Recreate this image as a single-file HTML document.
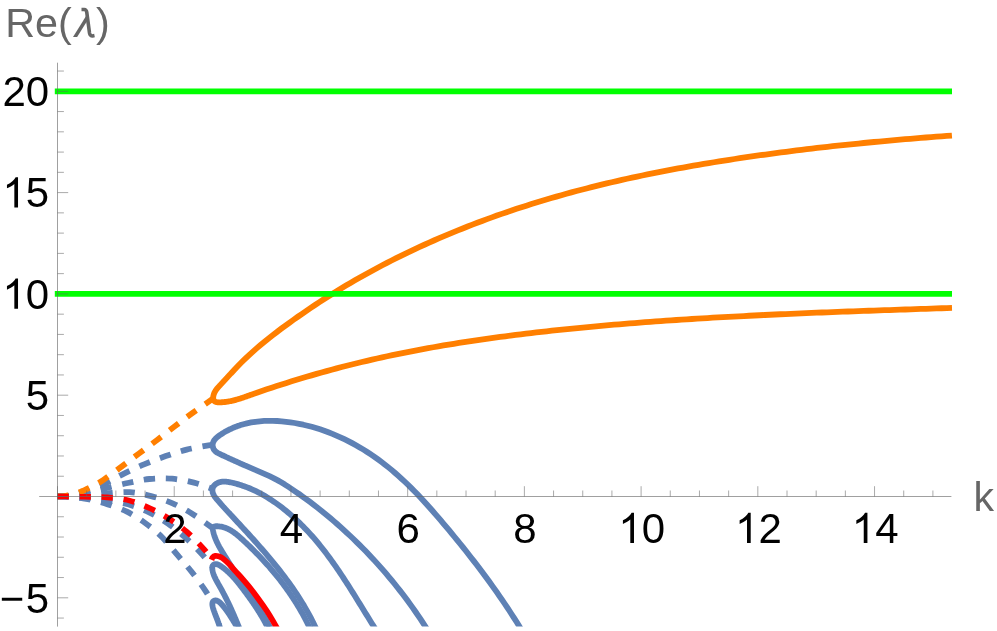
<!DOCTYPE html><html><head><meta charset="utf-8"><style>html,body{margin:0;padding:0;background:#fff;}body{width:997px;height:631px;position:relative;overflow:hidden;font-family:"Liberation Sans",sans-serif;}</style></head><body>
<svg width="997" height="631" viewBox="0 0 997 631" style="position:absolute;left:0;top:0">
<defs><clipPath id="c"><rect x="0" y="0" width="997" height="626.6"/></clipPath></defs>
<g clip-path="url(#c)" stroke-linecap="butt" stroke-linejoin="round">
<path d="M57.40 496.40 C58.67 496.35 62.07 496.40 65.00 496.10 C67.93 495.80 71.75 495.32 75.00 494.60 C78.25 493.88 81.50 492.83 84.50 491.80 C87.50 490.77 89.30 489.93 93.00 488.40 C96.70 486.87 101.45 485.12 106.70 482.60 C111.95 480.08 118.17 476.38 124.50 473.30 C130.83 470.22 137.83 466.97 144.70 464.10 C151.57 461.23 158.70 458.52 165.70 456.10 C172.70 453.68 179.57 451.38 186.70 449.60 C193.83 447.82 204.23 446.17 208.50 445.40 C212.77 444.63 211.67 445.07 212.30 445.00" stroke="#5E81B5" stroke-width="5.80" fill="none" stroke-dasharray="11.4 10.65"/>
<path d="M57.40 496.40 C58.67 496.37 62.07 496.37 65.00 496.20 C67.93 496.03 71.75 495.83 75.00 495.40 C78.25 494.97 81.50 494.23 84.50 493.60 C87.50 492.97 89.30 492.53 93.00 491.60 C96.70 490.67 100.92 489.43 106.70 488.00 C112.48 486.57 120.57 484.50 127.70 483.00 C134.83 481.50 142.10 479.72 149.50 479.00 C156.90 478.28 164.70 478.10 172.10 478.70 C179.50 479.30 187.58 481.05 193.90 482.60 C200.22 484.15 206.93 486.88 210.00 488.00 C213.07 489.12 211.92 489.08 212.30 489.30" stroke="#5E81B5" stroke-width="5.80" fill="none" stroke-dasharray="11.4 10.65"/>
<path d="M57.40 496.40 C58.67 496.38 62.07 496.37 65.00 496.30 C67.93 496.23 71.75 496.15 75.00 496.00 C78.25 495.85 81.17 495.65 84.50 495.40 C87.83 495.15 91.25 494.85 95.00 494.50 C98.75 494.15 101.23 493.68 107.00 493.30 C112.77 492.92 122.25 491.73 129.60 492.20 C136.95 492.67 143.93 494.25 151.10 496.10 C158.27 497.95 165.77 500.37 172.60 503.30 C179.43 506.23 186.35 510.23 192.10 513.70 C197.85 517.17 203.67 521.72 207.10 524.10 C210.53 526.48 211.77 527.35 212.70 528.00" stroke="#5E81B5" stroke-width="5.80" fill="none" stroke-dasharray="11.4 10.65"/>
<path d="M57.40 496.40 C59.50 496.47 65.57 496.57 70.00 496.80 C74.43 497.03 79.83 497.47 84.00 497.80 C88.17 498.13 91.17 498.38 95.00 498.80 C98.83 499.22 101.50 499.38 107.00 500.30 C112.50 501.22 120.98 502.28 128.00 504.30 C135.02 506.32 142.43 509.20 149.10 512.40 C155.77 515.60 162.02 519.37 168.00 523.50 C173.98 527.63 179.57 532.32 185.00 537.20 C190.43 542.08 196.10 547.98 200.60 552.80 C205.10 557.62 210.10 563.88 212.00 566.10" stroke="#5E81B5" stroke-width="5.80" fill="none" stroke-dasharray="11.4 10.65"/>
<path d="M57.40 496.40 C58.67 496.43 62.07 496.45 65.00 496.60 C67.93 496.75 71.75 496.95 75.00 497.30 C78.25 497.65 81.17 498.12 84.50 498.70 C87.83 499.28 91.08 499.85 95.00 500.80 C98.92 501.75 102.68 502.58 108.00 504.40 C113.32 506.22 120.60 508.52 126.90 511.70 C133.20 514.88 139.93 519.25 145.80 523.50 C151.67 527.75 156.77 531.88 162.10 537.20 C167.43 542.52 172.88 549.63 177.80 555.40 C182.72 561.17 186.98 565.90 191.60 571.80 C196.22 577.70 202.07 585.67 205.50 590.80 C208.93 595.93 211.08 600.63 212.20 602.60" stroke="#5E81B5" stroke-width="5.80" fill="none" stroke-dasharray="11.4 10.65"/>
<path d="M520.95 629.05 L518.66 625.31 L516.34 621.58 L513.99 617.88 L511.63 614.19 L509.24 610.52 L506.83 606.88 L504.39 603.24 L501.94 599.63 L499.46 596.03 L496.97 592.45 L494.45 588.88 L491.92 585.33 L489.37 581.79 L486.79 578.27 L484.20 574.76 L481.59 571.27 L478.97 567.78 L476.33 564.32 L473.67 560.86 L470.99 557.41 L468.30 553.98 L465.59 550.56 L462.87 547.14 L460.13 543.74 L457.38 540.35 L454.61 536.97 L451.84 533.59 L449.04 530.23 L446.24 526.87 L443.42 523.52 L440.59 520.18 L437.75 516.85 L434.89 513.53 L432.01 510.23 L429.10 506.96 L426.18 503.70 L423.22 500.47 L420.24 497.27 L417.23 494.10 L414.19 490.96 L411.11 487.85 L408.00 484.79 L404.85 481.77 L401.66 478.79 L398.43 475.86 L395.15 472.97 L391.82 470.14 L388.45 467.37 L385.03 464.65 L381.56 461.99 L378.04 459.39 L374.47 456.86 L370.85 454.39 L367.20 451.99 L363.49 449.66 L359.75 447.41 L355.96 445.23 L352.13 443.13 L348.26 441.10 L344.35 439.16 L340.40 437.30 L336.41 435.53 L332.39 433.84 L328.33 432.25 L324.24 430.75 L320.11 429.34 L315.95 428.03 L311.76 426.82 L307.54 425.71 L303.29 424.70 L299.01 423.80 L294.71 423.01 L290.37 422.32 L286.02 421.76 L281.64 421.31 L277.26 421.00 L272.88 420.83 L268.50 420.82 L264.13 420.96 L259.78 421.28 L255.46 421.77 L251.16 422.46 L246.91 423.34 L244.36 423.97 L243.39 424.24 L242.71 424.43 L242.42 424.51 L241.45 424.80 L240.49 425.10 L239.53 425.41 L238.57 425.73 L238.56 425.74 L237.62 426.07 L236.67 426.41 L235.72 426.77 L234.78 427.14 L234.47 427.27 L233.84 427.53 L232.90 427.92 L231.97 428.33 L231.04 428.76 L230.45 429.04 L230.12 429.19 L229.20 429.64 L228.28 430.10 L227.37 430.58 L226.50 431.05 L226.46 431.07 L225.56 431.57 L224.66 432.09 L223.77 432.62 L222.88 433.16 L222.64 433.32 L221.99 433.72 L221.12 434.30 L220.24 434.88 L219.37 435.49 L218.87 435.85 L218.52 436.10 L217.69 436.74 L216.90 437.41 L216.14 438.09 L215.50 438.74 L215.44 438.81 L214.79 439.55 L214.21 440.33 L213.71 441.14 L213.30 442.00 L213.22 442.19 L212.97 442.89 L212.75 443.82 L212.65 444.77 L212.65 445.73 L212.70 446.23 L212.78 446.68 L213.01 447.61 L213.36 448.52 L213.80 449.38 L214.26 450.07 L214.35 450.19 L214.99 450.93 L215.71 451.60 L216.51 452.20 L217.37 452.74 L217.51 452.82 L218.27 453.24 L219.20 453.71 L220.15 454.16 L221.09 454.61 L221.55 454.82 L222.04 455.06 L222.98 455.50 L223.92 455.94 L224.86 456.38 L225.60 456.72 L225.80 456.81 L226.73 457.25 L227.66 457.68 L228.59 458.11 L229.52 458.53 L229.62 458.58 L230.45 458.96 L231.38 459.38 L232.30 459.81 L233.22 460.23 L233.61 460.40 L234.15 460.64 L235.07 461.06 L235.99 461.48 L236.91 461.89 L237.59 462.19 L237.83 462.30 L238.75 462.71 L239.67 463.12 L240.58 463.53 L241.50 463.94 L241.55 463.96 L242.42 464.35 L243.34 464.75 L244.26 465.15 L245.18 465.56 L245.51 465.71 L249.49 467.43 L253.48 469.15 L257.50 470.86 L261.52 472.59 L265.54 474.36 L269.54 476.19 L273.48 478.11 L277.36 480.14 L281.16 482.30 L284.88 484.57 L288.55 486.93 L292.18 489.33 L295.80 491.78 L299.39 494.26 L302.95 496.78 L306.48 499.34 L309.99 501.94 L313.48 504.58 L316.93 507.25 L320.37 509.95 L323.77 512.69 L327.15 515.46 L330.50 518.27 L333.83 521.11 L337.13 523.97 L340.40 526.87 L343.64 529.80 L346.86 532.76 L350.05 535.75 L353.22 538.76 L356.36 541.80 L359.46 544.87 L362.55 547.97 L365.60 551.09 L368.62 554.25 L371.62 557.42 L374.59 560.63 L377.53 563.86 L380.44 567.12 L383.32 570.40 L386.17 573.71 L388.99 577.05 L391.78 580.41 L394.54 583.79 L397.27 587.20 L399.97 590.64 L402.63 594.10 L405.27 597.58 L407.87 601.09 L410.45 604.62 L412.99 608.17 L415.50 611.75 L417.98 615.35 L420.42 618.97 L422.83 622.61 L425.21 626.28 L427.56 629.97" stroke="#5E81B5" stroke-width="5.80" fill="none"/>
<path d="M376.00 630.01 L374.62 627.82 L373.24 625.63 L371.87 623.43 L370.50 621.24 L369.14 619.04 L367.78 616.83 L366.42 614.63 L365.06 612.43 L363.71 610.22 L362.35 608.02 L360.99 605.81 L359.64 603.61 L358.28 601.41 L356.92 599.21 L355.56 597.01 L354.19 594.82 L352.83 592.62 L351.45 590.43 L350.07 588.25 L348.69 586.07 L347.30 583.89 L345.90 581.72 L344.49 579.55 L343.08 577.39 L341.66 575.24 L340.22 573.09 L338.78 570.95 L337.32 568.81 L335.86 566.69 L334.38 564.57 L332.89 562.46 L331.38 560.36 L329.86 558.27 L328.33 556.19 L326.78 554.12 L325.22 552.06 L323.63 550.01 L322.04 547.97 L320.42 545.95 L318.78 543.94 L317.13 541.94 L315.45 539.95 L313.76 537.98 L312.05 536.03 L310.32 534.09 L308.57 532.17 L306.80 530.26 L305.01 528.38 L303.20 526.52 L301.37 524.67 L299.53 522.85 L297.66 521.06 L295.77 519.28 L293.87 517.53 L291.94 515.80 L289.99 514.10 L288.02 512.43 L286.04 510.79 L284.03 509.17 L282.00 507.58 L279.95 506.03 L277.88 504.50 L275.79 503.01 L273.68 501.55 L271.55 500.12 L269.40 498.73 L267.22 497.37 L265.03 496.06 L262.80 494.78 L260.55 493.55 L258.28 492.35 L255.97 491.21 L253.64 490.11 L251.28 489.05 L248.89 488.05 L248.16 487.75 L247.21 487.38 L246.46 487.09 L246.25 487.01 L245.30 486.65 L244.33 486.31 L244.01 486.19 L243.36 485.96 L242.39 485.63 L241.52 485.34 L241.41 485.31 L240.43 484.99 L239.44 484.68 L239.00 484.55 L238.44 484.38 L237.44 484.09 L236.44 483.81 L236.44 483.81 L235.43 483.54 L234.41 483.28 L233.84 483.13 L233.39 483.02 L232.36 482.78 L231.33 482.54 L231.22 482.52 L230.29 482.33 L229.26 482.14 L228.58 482.02 L228.23 481.97 L227.20 481.83 L226.18 481.73 L225.96 481.71 L225.16 481.66 L224.16 481.63 L223.39 481.65 L223.17 481.66 L222.19 481.73 L221.22 481.85 L220.91 481.91 L220.28 482.04 L219.35 482.29 L218.55 482.56 L218.45 482.60 L217.57 482.99 L216.71 483.45 L216.35 483.68 L215.88 483.99 L215.09 484.62 L214.36 485.31 L214.35 485.32 L213.70 486.10 L213.18 486.94 L212.95 487.43 L212.80 487.85 L212.56 488.79 L212.44 489.77 L212.44 489.87 L212.45 490.76 L212.57 491.75 L212.70 492.39 L212.79 492.72 L213.11 493.67 L213.51 494.58 L213.61 494.77 L213.99 495.47 L214.53 496.33 L214.98 496.97 L215.12 497.17 L215.76 498.00 L216.42 498.81 L216.63 499.06 L217.09 499.61 L217.78 500.40 L218.37 501.09 L218.46 501.19 L219.14 501.98 L219.83 502.76 L220.12 503.09 L220.51 503.53 L221.19 504.30 L221.86 505.06 L221.88 505.07 L222.56 505.83 L223.24 506.60 L223.61 507.00 L223.93 507.35 L224.61 508.11 L225.29 508.86 L225.35 508.93 L225.98 509.61 L226.66 510.36 L227.10 510.84 L227.34 511.10 L228.03 511.85 L228.71 512.59 L228.84 512.73 L229.39 513.33 L230.08 514.07 L230.59 514.62 L230.76 514.81 L231.44 515.54 L232.13 516.28 L232.34 516.51 L232.81 517.02 L233.49 517.75 L234.08 518.39 L234.18 518.49 L234.86 519.23 L235.55 519.97 L235.83 520.27 L236.23 520.70 L237.58 522.16 L239.33 524.05 L241.08 525.94 L242.83 527.84 L244.57 529.74 L246.32 531.64 L248.06 533.55 L249.80 535.46 L251.53 537.38 L253.26 539.30 L254.99 541.22 L256.71 543.16 L258.43 545.09 L260.14 547.04 L261.84 548.99 L263.54 550.94 L265.23 552.90 L266.91 554.87 L268.58 556.85 L270.24 558.83 L271.90 560.83 L273.54 562.83 L275.18 564.83 L276.80 566.85 L278.41 568.87 L280.01 570.91 L281.60 572.95 L283.17 575.00 L284.73 577.07 L286.27 579.14 L287.81 581.22 L289.32 583.31 L290.82 585.42 L292.31 587.53 L293.78 589.66 L295.23 591.79 L296.66 593.94 L298.08 596.10 L299.47 598.28 L300.85 600.46 L302.21 602.66 L303.55 604.87 L304.86 607.10 L306.16 609.34 L307.44 611.59 L308.69 613.85 L309.92 616.14 L311.13 618.43 L312.31 620.74 L313.47 623.06 L314.60 625.40 L315.71 627.76 L316.80 630.13" stroke="#5E81B5" stroke-width="5.80" fill="none"/>
<path d="M310.78 630.13 L310.05 628.58 L309.32 627.03 L308.57 625.50 L307.82 623.97 L307.06 622.45 L306.28 620.93 L305.50 619.43 L304.71 617.93 L303.91 616.44 L303.10 614.96 L302.29 613.48 L301.46 612.01 L300.62 610.55 L299.78 609.10 L298.93 607.65 L298.06 606.21 L297.19 604.78 L296.32 603.35 L295.43 601.93 L294.53 600.52 L293.63 599.11 L292.71 597.71 L291.79 596.32 L290.86 594.94 L289.92 593.56 L288.98 592.18 L288.02 590.82 L287.06 589.46 L286.09 588.10 L285.11 586.75 L284.12 585.41 L283.12 584.08 L282.12 582.75 L281.11 581.42 L280.09 580.10 L279.06 578.79 L278.02 577.48 L276.98 576.18 L275.93 574.89 L274.87 573.59 L273.80 572.31 L272.73 571.03 L271.65 569.76 L270.56 568.49 L269.46 567.22 L268.36 565.96 L267.24 564.71 L266.12 563.46 L265.00 562.21 L263.86 560.97 L262.72 559.74 L261.57 558.51 L260.42 557.28 L259.25 556.06 L258.08 554.85 L256.90 553.63 L255.72 552.42 L254.53 551.22 L253.33 550.02 L252.12 548.83 L250.91 547.63 L249.69 546.45 L248.47 545.26 L247.23 544.08 L246.31 543.21 L245.99 542.91 L245.56 542.50 L244.81 541.80 L244.75 541.74 L244.06 541.09 L243.49 540.57 L243.30 540.39 L242.54 539.69 L242.23 539.40 L241.78 538.99 L241.01 538.29 L240.96 538.25 L240.24 537.60 L239.68 537.11 L239.47 536.92 L238.69 536.25 L238.39 536.00 L237.90 535.59 L237.11 534.93 L237.08 534.91 L236.31 534.30 L235.76 533.86 L235.51 533.67 L234.70 533.06 L234.41 532.85 L233.88 532.47 L233.05 531.90 L233.04 531.89 L232.22 531.34 L231.65 530.98 L231.37 530.81 L230.52 530.30 L230.23 530.13 L229.65 529.81 L228.79 529.35 L228.78 529.34 L227.89 528.91 L227.31 528.64 L226.99 528.50 L226.08 528.12 L225.80 528.01 L225.16 527.77 L224.26 527.47 L224.22 527.46 L223.27 527.17 L222.68 527.01 L222.31 526.92 L221.33 526.71 L221.05 526.66 L220.34 526.54 L219.39 526.41 L219.33 526.40 L218.31 526.30 L217.69 526.27 L217.26 526.25 L216.22 526.25 L215.96 526.26 L215.23 526.33 L214.42 526.50 L214.34 526.53 L213.61 526.87 L213.29 527.15 L213.09 527.40 L212.83 528.14 L212.81 528.34 L212.81 529.07 L212.93 529.98 L212.95 530.10 L213.16 531.16 L213.29 531.74 L213.39 532.21 L213.65 533.24 L213.71 533.45 L213.93 534.26 L214.19 535.13 L214.23 535.27 L214.55 536.26 L214.73 536.78 L214.90 537.25 L215.25 538.22 L215.32 538.39 L215.63 539.18 L215.96 539.98 L216.03 540.13 L216.44 541.07 L216.65 541.54 L216.86 542.00 L217.30 542.93 L217.37 543.07 L217.75 543.84 L218.13 544.58 L218.21 544.75 L218.69 545.65 L218.92 546.08 L219.17 546.55 L219.67 547.44 L219.73 547.55 L220.17 548.32 L220.57 549.01 L220.68 549.20 L221.19 550.07 L221.43 550.46 L221.71 550.94 L222.24 551.81 L222.30 551.91 L222.77 552.68 L223.18 553.34 L223.30 553.54 L223.83 554.40 L224.06 554.77 L224.37 555.27 L224.90 556.13 L224.95 556.20 L225.44 556.99 L225.83 557.62 L225.97 557.85 L226.50 558.71 L226.72 559.05 L227.04 559.57 L227.57 560.42 L227.61 560.47 L228.11 561.28 L228.49 561.90 L228.64 562.14 L229.18 563.00 L229.38 563.32 L229.72 563.85 L230.27 564.74 L231.17 566.16 L232.06 567.57 L232.96 568.98 L233.86 570.40 L234.77 571.81 L235.68 573.21 L236.59 574.62 L237.51 576.02 L238.43 577.42 L239.36 578.82 L240.29 580.22 L241.22 581.61 L242.16 583.01 L243.09 584.40 L244.03 585.79 L244.98 587.18 L245.92 588.57 L246.86 589.96 L247.80 591.36 L248.74 592.75 L249.68 594.14 L250.62 595.54 L251.56 596.93 L252.49 598.33 L253.42 599.73 L254.35 601.13 L255.27 602.54 L256.19 603.94 L257.10 605.35 L258.01 606.77 L258.91 608.19 L259.80 609.61 L260.69 611.03 L261.57 612.46 L262.44 613.90 L263.31 615.34 L264.16 616.78 L265.01 618.23 L265.85 619.69 L266.67 621.15 L267.49 622.62 L268.29 624.10 L269.08 625.58 L269.86 627.07 L270.63 628.56 L271.38 630.07" stroke="#5E81B5" stroke-width="5.80" fill="none"/>
<path d="M268.92 630.02 L268.50 629.11 L268.07 628.20 L267.63 627.30 L267.18 626.40 L266.73 625.50 L266.27 624.61 L265.81 623.71 L265.34 622.82 L264.86 621.93 L264.37 621.05 L263.89 620.16 L263.39 619.28 L262.89 618.40 L262.38 617.52 L261.87 616.65 L261.36 615.78 L260.84 614.91 L260.31 614.04 L259.78 613.17 L259.25 612.31 L258.71 611.45 L258.16 610.59 L257.61 609.73 L257.06 608.88 L256.51 608.03 L255.95 607.18 L255.38 606.33 L254.82 605.48 L254.25 604.64 L253.68 603.80 L253.10 602.96 L252.52 602.13 L251.94 601.29 L251.36 600.46 L250.77 599.63 L250.19 598.81 L249.59 597.98 L249.00 597.16 L248.41 596.34 L247.81 595.52 L247.22 594.71 L246.62 593.89 L246.02 593.08 L245.42 592.27 L244.82 591.47 L244.21 590.66 L243.61 589.86 L243.01 589.06 L242.40 588.26 L241.80 587.47 L241.68 587.31 L241.19 586.68 L241.07 586.52 L240.58 585.89 L240.46 585.73 L239.97 585.10 L239.85 584.94 L239.36 584.32 L239.23 584.15 L238.74 583.54 L238.61 583.37 L238.12 582.76 L237.99 582.60 L237.50 581.99 L237.36 581.82 L236.86 581.22 L236.73 581.05 L236.22 580.45 L236.09 580.29 L235.58 579.69 L235.44 579.53 L234.93 578.94 L234.78 578.77 L234.27 578.19 L234.12 578.02 L233.60 577.44 L233.45 577.28 L232.92 576.70 L232.77 576.54 L232.23 575.96 L232.07 575.80 L231.53 575.24 L231.37 575.07 L230.82 574.51 L230.65 574.35 L230.09 573.79 L229.93 573.63 L229.36 573.08 L229.19 572.92 L228.61 572.38 L228.44 572.22 L227.85 571.68 L227.67 571.52 L227.07 570.99 L226.89 570.83 L226.28 570.31 L226.09 570.15 L225.47 569.63 L225.28 569.47 L224.65 568.96 L224.45 568.80 L223.81 568.30 L223.60 568.14 L222.95 567.65 L222.74 567.49 L222.07 567.00 L221.85 566.85 L221.18 566.37 L220.95 566.22 L220.27 565.77 L220.04 565.63 L219.35 565.22 L219.13 565.09 L218.44 564.75 L218.21 564.65 L217.53 564.38 L217.30 564.31 L216.63 564.15 L216.41 564.11 L215.76 564.07 L215.54 564.08 L214.91 564.17 L214.70 564.23 L214.11 564.46 L213.92 564.56 L213.41 564.92 L213.25 565.06 L212.85 565.53 L212.73 565.71 L212.46 566.29 L212.40 566.51 L212.27 567.18 L212.25 567.42 L212.24 568.15 L212.25 568.41 L212.33 569.16 L212.36 569.44 L212.48 570.19 L212.53 570.46 L212.69 571.20 L212.75 571.47 L212.93 572.20 L213.00 572.47 L213.21 573.19 L213.29 573.45 L213.53 574.16 L213.62 574.42 L213.88 575.12 L213.98 575.38 L214.25 576.07 L214.36 576.33 L214.66 577.01 L214.77 577.27 L215.09 577.94 L215.21 578.19 L215.53 578.86 L215.66 579.12 L216.00 579.77 L216.13 580.03 L216.48 580.68 L216.62 580.94 L216.97 581.59 L217.12 581.84 L217.48 582.49 L217.62 582.74 L217.99 583.38 L218.13 583.64 L218.50 584.27 L218.65 584.53 L219.01 585.17 L219.16 585.42 L219.52 586.06 L219.67 586.32 L220.03 586.95 L220.17 587.21 L220.53 587.84 L220.68 588.10 L221.03 588.74 L221.17 589.00 L221.52 589.63 L221.66 589.89 L222.01 590.52 L222.15 590.79 L222.49 591.42 L222.63 591.69 L222.97 592.31 L223.11 592.58 L223.44 593.21 L223.59 593.48 L223.91 594.11 L224.06 594.38 L224.38 595.00 L224.52 595.28 L224.84 595.90 L224.98 596.18 L225.30 596.80 L225.44 597.08 L225.76 597.70 L225.90 597.98 L226.21 598.60 L226.35 598.88 L226.66 599.50 L226.80 599.79 L227.10 600.41 L227.24 600.69 L227.54 601.31 L227.68 601.60 L227.98 602.21 L228.12 602.50 L228.42 603.12 L228.85 604.03 L229.28 604.94 L229.70 605.84 L230.12 606.76 L230.54 607.67 L230.96 608.58 L231.38 609.49 L231.79 610.41 L232.20 611.33 L232.61 612.24 L233.01 613.16 L233.42 614.09 L233.82 615.01 L234.22 615.93 L234.62 616.86 L235.01 617.79 L235.41 618.72 L235.80 619.65 L236.19 620.58 L236.58 621.51 L236.97 622.45 L237.36 623.39 L237.75 624.33 L238.13 625.27 L238.52 626.21 L238.90 627.16 L239.29 628.10 L239.67 629.05 L240.05 630.00" stroke="#5E81B5" stroke-width="5.80" fill="none"/>
<path d="M239.10 630.05 L238.83 629.64 L238.56 629.23 L238.30 628.82 L238.04 628.42 L237.78 628.02 L237.53 627.62 L237.33 627.31 L237.27 627.22 L237.02 626.83 L236.85 626.55 L236.78 626.43 L236.53 626.04 L236.38 625.79 L236.29 625.65 L236.05 625.26 L235.91 625.05 L235.81 624.88 L235.57 624.49 L235.46 624.30 L235.34 624.11 L235.10 623.73 L235.01 623.57 L234.87 623.34 L234.64 622.97 L234.56 622.84 L234.41 622.59 L234.18 622.21 L234.12 622.11 L233.95 621.84 L233.72 621.46 L233.68 621.39 L233.49 621.09 L233.26 620.72 L233.24 620.67 L233.04 620.34 L232.81 619.97 L232.80 619.96 L232.58 619.60 L232.36 619.25 L232.36 619.24 L232.13 618.87 L231.93 618.54 L231.90 618.50 L231.67 618.13 L231.49 617.83 L231.45 617.77 L231.22 617.40 L231.04 617.12 L230.99 617.03 L230.75 616.67 L230.60 616.42 L230.52 616.30 L230.29 615.94 L230.15 615.71 L230.05 615.57 L229.82 615.21 L229.69 615.01 L229.58 614.84 L229.34 614.47 L229.23 614.31 L229.09 614.11 L228.85 613.74 L228.76 613.60 L228.60 613.38 L228.35 613.01 L228.28 612.90 L228.10 612.64 L227.85 612.28 L227.79 612.19 L227.59 611.91 L227.33 611.54 L227.29 611.48 L227.07 611.17 L226.80 610.80 L226.78 610.77 L226.53 610.43 L226.26 610.06 L226.26 610.05 L225.99 609.69 L225.72 609.33 L225.71 609.31 L225.42 608.94 L225.17 608.61 L225.13 608.56 L224.84 608.19 L224.61 607.88 L224.55 607.81 L224.25 607.43 L224.02 607.15 L223.94 607.05 L223.63 606.66 L223.43 606.41 L223.32 606.28 L223.00 605.90 L222.81 605.67 L222.67 605.51 L222.34 605.12 L222.18 604.93 L222.01 604.74 L221.67 604.36 L221.52 604.20 L221.33 603.99 L220.99 603.62 L220.86 603.49 L220.64 603.27 L220.28 602.92 L220.18 602.83 L219.93 602.60 L219.57 602.28 L219.49 602.22 L219.21 601.99 L218.84 601.71 L218.79 601.68 L218.48 601.46 L218.11 601.23 L218.08 601.22 L217.74 601.03 L217.37 600.85 L217.36 600.85 L216.99 600.71 L216.64 600.60 L216.62 600.59 L216.24 600.51 L215.92 600.47 L215.86 600.47 L215.49 600.46 L215.19 600.48 L215.11 600.49 L214.74 600.56 L214.48 600.63 L214.38 600.67 L214.04 600.81 L213.83 600.92 L213.72 600.99 L213.44 601.19 L213.29 601.32 L213.19 601.43 L212.98 601.69 L212.89 601.83 L212.80 601.98 L212.65 602.29 L212.60 602.43 L212.54 602.63 L212.45 602.99 L212.43 603.12 L212.40 603.37 L212.36 603.77 L212.36 603.88 L212.36 604.18 L212.37 604.61 L212.38 604.70 L212.41 605.06 L212.47 605.51 L212.48 605.57 L212.54 605.98 L212.64 606.46 L212.64 606.48 L212.74 606.94 L212.86 607.42 L212.86 607.43 L213.00 607.92 L213.12 608.37 L213.14 608.42 L213.29 608.92 L213.42 609.33 L213.45 609.42 L213.61 609.92 L213.74 610.29 L213.78 610.41 L213.95 610.90 L214.07 611.23 L214.12 611.38 L214.29 611.85 L214.39 612.14 L214.46 612.32 L214.63 612.78 L214.72 613.02 L214.79 613.23 L214.96 613.67 L215.04 613.88 L215.12 614.11 L215.29 614.54 L215.35 614.71 L215.45 614.97 L215.61 615.39 L215.66 615.52 L215.77 615.81 L215.93 616.22 L215.97 616.32 L216.09 616.63 L216.24 617.03 L216.27 617.10 L216.40 617.43 L216.55 617.83 L216.57 617.87 L216.71 618.23 L216.86 618.62 L216.86 618.63 L217.01 619.02 L217.15 619.39 L217.16 619.41 L217.31 619.80 L217.44 620.14 L217.46 620.19 L217.61 620.58 L217.72 620.90 L217.75 620.98 L217.90 621.37 L218.00 621.66 L218.04 621.76 L218.19 622.16 L218.28 622.42 L218.33 622.56 L218.47 622.96 L218.55 623.20 L218.61 623.37 L218.75 623.77 L218.83 623.98 L218.89 624.19 L219.03 624.60 L219.09 624.79 L219.17 625.02 L219.31 625.45 L219.36 625.61 L219.44 625.88 L219.58 626.32 L219.62 626.45 L219.71 626.77 L219.85 627.22 L219.88 627.32 L219.98 627.68 L220.12 628.14 L220.14 628.21 L220.25 628.62 L220.38 629.10 L220.39 629.14 L220.51 629.59 L220.64 630.09" stroke="#5E81B5" stroke-width="5.80" fill="none"/>
<path d="M57.40 496.40 C58.67 496.33 62.07 496.40 65.00 496.00 C67.93 495.60 71.82 494.95 75.00 494.00 C78.18 493.05 81.10 491.63 84.10 490.30 C87.10 488.97 89.77 487.75 93.00 486.00 C96.23 484.25 98.80 482.98 103.50 479.80 C108.20 476.62 115.28 471.28 121.20 466.90 C127.12 462.52 133.07 457.95 139.00 453.50 C144.93 449.05 150.88 444.70 156.80 440.20 C162.72 435.70 168.58 431.02 174.50 426.50 C180.42 421.98 186.37 417.40 192.30 413.10 C198.23 408.80 206.67 403.10 210.10 400.70 C213.53 398.30 212.43 399.03 212.90 398.70" stroke="#FF7F00" stroke-width="5.80" fill="none" stroke-dasharray="11.4 10.65"/>
<path d="M951.92 135.56 L946.72 135.94 L941.52 136.32 L936.33 136.71 L931.13 137.10 L925.94 137.51 L920.74 137.92 L915.55 138.34 L910.36 138.77 L905.17 139.21 L899.98 139.65 L894.79 140.10 L889.61 140.57 L884.42 141.04 L879.24 141.52 L874.05 142.00 L868.87 142.50 L863.69 143.01 L858.51 143.52 L853.33 144.05 L848.15 144.58 L842.98 145.13 L837.80 145.68 L832.63 146.24 L827.46 146.82 L822.28 147.40 L817.11 147.99 L811.94 148.60 L806.78 149.21 L801.61 149.84 L796.44 150.48 L791.28 151.12 L786.12 151.78 L780.95 152.45 L775.79 153.13 L770.63 153.83 L765.48 154.53 L760.32 155.24 L755.16 155.97 L750.01 156.71 L744.85 157.46 L739.70 158.23 L734.55 159.00 L729.40 159.79 L724.26 160.59 L719.11 161.41 L713.97 162.24 L708.83 163.08 L703.69 163.94 L698.55 164.81 L693.42 165.70 L688.29 166.61 L683.16 167.53 L678.04 168.46 L672.92 169.41 L667.80 170.38 L662.69 171.37 L657.58 172.37 L652.47 173.40 L647.37 174.43 L642.27 175.49 L637.17 176.57 L632.08 177.67 L627.00 178.78 L621.92 179.92 L616.84 181.07 L611.77 182.25 L606.70 183.44 L601.64 184.66 L596.59 185.90 L591.54 187.16 L586.49 188.44 L581.45 189.74 L576.42 191.07 L571.39 192.42 L566.37 193.79 L561.36 195.19 L556.35 196.61 L551.35 198.05 L546.36 199.52 L541.37 201.02 L536.39 202.53 L531.42 204.08 L526.45 205.65 L521.49 207.24 L516.54 208.86 L511.60 210.51 L506.67 212.18 L501.75 213.88 L496.83 215.61 L491.93 217.36 L487.03 219.14 L482.15 220.94 L477.27 222.77 L472.41 224.63 L467.55 226.52 L462.71 228.43 L457.88 230.37 L453.06 232.34 L448.25 234.34 L443.45 236.36 L438.67 238.42 L433.90 240.50 L429.14 242.61 L424.39 244.74 L419.66 246.91 L414.94 249.11 L410.24 251.33 L405.55 253.58 L400.87 255.87 L396.21 258.18 L391.56 260.52 L386.93 262.89 L382.31 265.30 L377.71 267.73 L373.12 270.19 L368.55 272.68 L364.00 275.21 L359.46 277.76 L354.94 280.35 L350.44 282.96 L345.95 285.61 L341.49 288.29 L337.04 291.00 L332.60 293.74 L328.19 296.51 L323.80 299.31 L319.42 302.15 L315.06 305.01 L310.73 307.90 L306.41 310.82 L302.11 313.77 L297.84 316.75 L293.58 319.75 L289.34 322.78 L285.13 325.84 L280.94 328.94 L276.78 332.06 L272.66 335.23 L268.57 338.45 L264.52 341.71 L260.52 345.02 L256.57 348.39 L252.67 351.82 L248.83 355.32 L245.05 358.89 L241.34 362.53 L237.69 366.25 L236.74 367.23 L236.04 367.97 L235.35 368.70 L234.65 369.44 L234.10 370.03 L233.96 370.18 L233.26 370.92 L232.57 371.67 L231.88 372.41 L231.19 373.15 L230.54 373.85 L230.50 373.90 L229.81 374.65 L229.12 375.40 L228.44 376.14 L227.75 376.89 L227.06 377.64 L227.01 377.70 L226.37 378.39 L225.69 379.14 L225.00 379.89 L224.31 380.64 L223.62 381.39 L223.47 381.55 L222.93 382.13 L222.24 382.88 L221.55 383.63 L220.86 384.37 L220.17 385.11 L219.91 385.38 L219.47 385.86 L218.79 386.60 L218.11 387.36 L217.45 388.13 L216.81 388.91 L216.50 389.32 L216.21 389.72 L215.64 390.56 L215.11 391.43 L214.63 392.33 L214.20 393.27 L213.95 393.91 L213.83 394.26 L213.52 395.30 L213.30 396.38 L213.18 397.46 L213.20 398.51 L213.33 399.28 L213.38 399.47 L213.74 400.33 L214.27 401.04 L214.95 401.59 L215.77 401.96 L216.63 402.16 L216.69 402.17 L217.69 402.27 L218.72 402.31 L219.76 402.31 L220.79 402.29 L221.81 402.25 L221.88 402.25 L222.83 402.19 L223.85 402.11 L224.86 402.01 L225.86 401.89 L226.86 401.76 L227.08 401.72 L227.86 401.60 L228.85 401.43 L229.85 401.25 L230.83 401.05 L231.82 400.83 L232.17 400.75 L232.80 400.61 L233.78 400.37 L234.75 400.12 L235.72 399.85 L236.69 399.58 L237.18 399.44 L237.66 399.30 L238.63 399.01 L239.59 398.71 L240.56 398.40 L241.52 398.09 L242.13 397.89 L242.48 397.77 L243.44 397.45 L244.40 397.12 L245.35 396.79 L246.31 396.45 L247.06 396.19 L247.27 396.12 L248.23 395.78 L249.18 395.44 L250.14 395.10 L251.98 394.45 L256.90 392.74 L261.84 391.04 L266.78 389.37 L271.72 387.72 L276.68 386.10 L281.64 384.49 L286.61 382.91 L291.58 381.35 L296.56 379.82 L301.55 378.31 L306.55 376.82 L311.55 375.35 L316.56 373.91 L321.57 372.49 L326.59 371.10 L331.62 369.73 L336.65 368.38 L341.69 367.06 L346.73 365.76 L351.78 364.49 L356.83 363.24 L361.89 362.02 L366.96 360.82 L372.03 359.64 L377.10 358.49 L382.18 357.36 L387.27 356.25 L392.36 355.16 L397.45 354.10 L402.55 353.06 L407.65 352.04 L412.76 351.04 L417.87 350.07 L422.99 349.11 L428.10 348.17 L433.23 347.26 L438.35 346.36 L443.48 345.48 L448.62 344.62 L453.75 343.77 L458.89 342.95 L464.04 342.14 L469.18 341.35 L474.33 340.58 L479.48 339.82 L484.64 339.08 L489.79 338.35 L494.95 337.64 L500.11 336.95 L505.28 336.27 L510.44 335.60 L515.61 334.95 L520.78 334.31 L525.95 333.68 L531.12 333.07 L536.30 332.47 L541.47 331.88 L546.65 331.30 L551.83 330.73 L557.00 330.18 L562.18 329.64 L567.36 329.10 L572.55 328.58 L577.73 328.06 L582.91 327.56 L588.09 327.06 L593.28 326.58 L598.46 326.10 L603.65 325.64 L608.84 325.18 L614.02 324.73 L619.21 324.29 L624.40 323.86 L629.59 323.44 L634.78 323.03 L639.97 322.62 L645.16 322.23 L650.35 321.84 L655.54 321.45 L660.74 321.08 L665.93 320.71 L671.12 320.36 L676.32 320.00 L681.51 319.66 L686.71 319.32 L691.90 318.99 L697.10 318.67 L702.30 318.35 L707.49 318.04 L712.69 317.73 L717.89 317.43 L723.09 317.14 L728.28 316.85 L733.48 316.57 L738.68 316.30 L743.88 316.03 L749.08 315.76 L754.28 315.50 L759.48 315.24 L764.68 314.99 L769.89 314.75 L775.09 314.51 L780.29 314.27 L785.49 314.03 L790.69 313.81 L795.89 313.58 L801.10 313.36 L806.30 313.14 L811.50 312.93 L816.71 312.72 L821.91 312.51 L827.11 312.30 L832.32 312.10 L837.52 311.90 L842.72 311.70 L847.93 311.51 L853.13 311.32 L858.33 311.13 L863.54 310.94 L868.74 310.75 L873.94 310.57 L879.15 310.39 L884.35 310.21 L889.56 310.03 L894.76 309.85 L899.96 309.67 L905.17 309.49 L910.37 309.32 L915.57 309.14 L920.78 308.97 L925.98 308.79 L931.18 308.62 L936.38 308.44 L941.59 308.27 L946.79 308.09 L951.99 307.92" stroke="#FF7F00" stroke-width="5.80" fill="none"/>
<line x1="54.8" x2="952.0" y1="293.90" y2="293.90" stroke="#00FF00" stroke-width="5.8"/>
<line x1="54.8" x2="952.0" y1="91.30" y2="91.30" stroke="#00FF00" stroke-width="5.8"/>
<path d="M57.40 496.50 C59.50 496.52 65.58 496.55 70.00 496.60 C74.42 496.65 79.73 496.73 83.90 496.80 C88.07 496.87 91.08 496.90 95.00 497.00 C98.92 497.10 101.63 496.80 107.40 497.40 C113.17 498.00 122.43 498.75 129.60 500.60 C136.77 502.45 143.78 505.45 150.40 508.50 C157.02 511.55 163.22 515.00 169.30 518.90 C175.38 522.80 181.35 527.12 186.90 531.90 C192.45 536.68 198.42 543.15 202.60 547.60 C206.78 552.05 210.43 556.77 212.00 558.60" stroke="#FF0000" stroke-width="5.60" fill="none" stroke-dasharray="11.4 10.65"/>
<path d="M211.60 559.80 C211.77 559.40 211.98 558.05 212.60 557.40 C213.22 556.75 214.32 556.08 215.30 555.90 C216.28 555.72 217.33 555.95 218.50 556.30 C219.67 556.65 220.53 556.70 222.30 558.00 C224.07 559.30 226.83 561.83 229.10 564.10 C231.37 566.37 233.63 569.10 235.90 571.60 C238.17 574.10 240.42 576.48 242.70 579.10 C244.98 581.72 247.32 584.45 249.60 587.30 C251.88 590.15 254.13 593.13 256.40 596.20 C258.67 599.27 260.93 602.42 263.20 605.70 C265.47 608.98 267.83 612.42 270.00 615.90 C272.17 619.38 274.87 624.25 276.20 626.60 C277.53 628.95 277.70 629.43 278.00 630.00" stroke="#FF0000" stroke-width="5.70" fill="none"/>
</g>
<g stroke="#666666" stroke-opacity="0.62" stroke-width="1" fill="none">
<line x1="39.2" x2="951.4" y1="496.5" y2="496.5"/>
<line x1="57.5" x2="57.5" y1="62.7" y2="626.6"/>
</g>
<g stroke="#666666" stroke-opacity="0.62" stroke-width="0.9" fill="none">
<line x1="57.50" x2="57.50" y1="496.5" y2="486.2"/>
<line x1="86.68" x2="86.68" y1="496.5" y2="490.5"/>
<line x1="115.86" x2="115.86" y1="496.5" y2="490.5"/>
<line x1="145.04" x2="145.04" y1="496.5" y2="490.5"/>
<line x1="174.22" x2="174.22" y1="496.5" y2="486.2"/>
<line x1="203.40" x2="203.40" y1="496.5" y2="490.5"/>
<line x1="232.58" x2="232.58" y1="496.5" y2="490.5"/>
<line x1="261.76" x2="261.76" y1="496.5" y2="490.5"/>
<line x1="290.94" x2="290.94" y1="496.5" y2="486.2"/>
<line x1="320.12" x2="320.12" y1="496.5" y2="490.5"/>
<line x1="349.30" x2="349.30" y1="496.5" y2="490.5"/>
<line x1="378.48" x2="378.48" y1="496.5" y2="490.5"/>
<line x1="407.66" x2="407.66" y1="496.5" y2="486.2"/>
<line x1="436.84" x2="436.84" y1="496.5" y2="490.5"/>
<line x1="466.02" x2="466.02" y1="496.5" y2="490.5"/>
<line x1="495.20" x2="495.20" y1="496.5" y2="490.5"/>
<line x1="524.38" x2="524.38" y1="496.5" y2="486.2"/>
<line x1="553.56" x2="553.56" y1="496.5" y2="490.5"/>
<line x1="582.74" x2="582.74" y1="496.5" y2="490.5"/>
<line x1="611.92" x2="611.92" y1="496.5" y2="490.5"/>
<line x1="641.10" x2="641.10" y1="496.5" y2="486.2"/>
<line x1="670.28" x2="670.28" y1="496.5" y2="490.5"/>
<line x1="699.46" x2="699.46" y1="496.5" y2="490.5"/>
<line x1="728.64" x2="728.64" y1="496.5" y2="490.5"/>
<line x1="757.82" x2="757.82" y1="496.5" y2="486.2"/>
<line x1="787.00" x2="787.00" y1="496.5" y2="490.5"/>
<line x1="816.18" x2="816.18" y1="496.5" y2="490.5"/>
<line x1="845.36" x2="845.36" y1="496.5" y2="490.5"/>
<line x1="874.54" x2="874.54" y1="496.5" y2="486.2"/>
<line x1="903.72" x2="903.72" y1="496.5" y2="490.5"/>
<line x1="932.90" x2="932.90" y1="496.5" y2="490.5"/>
<line x1="57.5" x2="63.9" y1="618.06" y2="618.06"/>
<line x1="57.5" x2="68.2" y1="597.80" y2="597.80"/>
<line x1="57.5" x2="63.9" y1="577.54" y2="577.54"/>
<line x1="57.5" x2="63.9" y1="557.28" y2="557.28"/>
<line x1="57.5" x2="63.9" y1="537.02" y2="537.02"/>
<line x1="57.5" x2="63.9" y1="516.76" y2="516.76"/>
<line x1="57.5" x2="68.2" y1="496.50" y2="496.50"/>
<line x1="57.5" x2="63.9" y1="476.24" y2="476.24"/>
<line x1="57.5" x2="63.9" y1="455.98" y2="455.98"/>
<line x1="57.5" x2="63.9" y1="435.72" y2="435.72"/>
<line x1="57.5" x2="63.9" y1="415.46" y2="415.46"/>
<line x1="57.5" x2="68.2" y1="395.20" y2="395.20"/>
<line x1="57.5" x2="63.9" y1="374.94" y2="374.94"/>
<line x1="57.5" x2="63.9" y1="354.68" y2="354.68"/>
<line x1="57.5" x2="63.9" y1="334.42" y2="334.42"/>
<line x1="57.5" x2="63.9" y1="314.16" y2="314.16"/>
<line x1="57.5" x2="68.2" y1="293.90" y2="293.90"/>
<line x1="57.5" x2="63.9" y1="273.64" y2="273.64"/>
<line x1="57.5" x2="63.9" y1="253.38" y2="253.38"/>
<line x1="57.5" x2="63.9" y1="233.12" y2="233.12"/>
<line x1="57.5" x2="63.9" y1="212.86" y2="212.86"/>
<line x1="57.5" x2="68.2" y1="192.60" y2="192.60"/>
<line x1="57.5" x2="63.9" y1="172.34" y2="172.34"/>
<line x1="57.5" x2="63.9" y1="152.08" y2="152.08"/>
<line x1="57.5" x2="63.9" y1="131.82" y2="131.82"/>
<line x1="57.5" x2="63.9" y1="111.56" y2="111.56"/>
<line x1="57.5" x2="68.2" y1="91.30" y2="91.30"/>
<line x1="57.5" x2="63.9" y1="71.04" y2="71.04"/>
</g>
<g font-family="Liberation Sans, sans-serif" font-size="42.0" opacity="0.999">
<text transform="translate(163.14,543.00) scale(1,1.000)" fill="#000">2</text>
<text transform="translate(279.86,543.00) scale(1,1.000)" fill="#000">4</text>
<text transform="translate(396.58,543.00) scale(1,1.000)" fill="#000">6</text>
<text transform="translate(513.30,543.00) scale(1,1.000)" fill="#000">8</text>
<path d="M763 0H583V1147Q518 1085 412.5 1023Q307 961 223 930V1104Q374 1175 487 1276Q600 1377 647 1472H763Z" fill="#000" transform="translate(618.34,543.00) scale(0.02051,-0.02051)"/><text transform="translate(641.70,543.00) scale(1,1.000)" fill="#000">0</text>
<path d="M763 0H583V1147Q518 1085 412.5 1023Q307 961 223 930V1104Q374 1175 487 1276Q600 1377 647 1472H763Z" fill="#000" transform="translate(735.06,543.00) scale(0.02051,-0.02051)"/><text transform="translate(758.42,543.00) scale(1,1.000)" fill="#000">2</text>
<path d="M763 0H583V1147Q518 1085 412.5 1023Q307 961 223 930V1104Q374 1175 487 1276Q600 1377 647 1472H763Z" fill="#000" transform="translate(851.78,543.00) scale(0.02051,-0.02051)"/><text transform="translate(875.14,543.00) scale(1,1.000)" fill="#000">4</text>
<text transform="translate(2.38,106.10) scale(1,1.000)" fill="#000">2</text><text transform="translate(25.74,106.10) scale(1,1.000)" fill="#000">0</text>
<path d="M763 0H583V1147Q518 1085 412.5 1023Q307 961 223 930V1104Q374 1175 487 1276Q600 1377 647 1472H763Z" fill="#000" transform="translate(2.38,207.40) scale(0.02051,-0.02051)"/><text transform="translate(25.74,207.40) scale(1,1.000)" fill="#000">5</text>
<path d="M763 0H583V1147Q518 1085 412.5 1023Q307 961 223 930V1104Q374 1175 487 1276Q600 1377 647 1472H763Z" fill="#000" transform="translate(2.38,308.70) scale(0.02051,-0.02051)"/><text transform="translate(25.74,308.70) scale(1,1.000)" fill="#000">0</text>
<text transform="translate(25.74,410.00) scale(1,1.000)" fill="#000">5</text>
<text transform="translate(-0.19,612.60) scale(1,1.000)" fill="#000">−</text><text transform="translate(25.74,612.60) scale(1,1.000)" fill="#000">5</text>
<text x="5.3" y="37.3" font-size="41.3" fill="#666666">Re(</text>
<path d="M81.5 9.45 L84.3 9.45 Q86.3 9.5 86.8 12.4 L89.5 33 Q90.05 36 92.5 36 L94.5 35.6" stroke="#666666" stroke-width="3.6" fill="none" stroke-linejoin="round"/>
<path d="M73.0 37.1 L77.15 37.1 L88.1 19.6 L86.4 15.6 Z" fill="#666666"/>
<text x="96.0" y="37.3" font-size="41.3" fill="#666666">)</text>
<text x="973.4" y="510.8" font-size="41" fill="#666666">k</text>
</g>
</svg>
</body></html>
